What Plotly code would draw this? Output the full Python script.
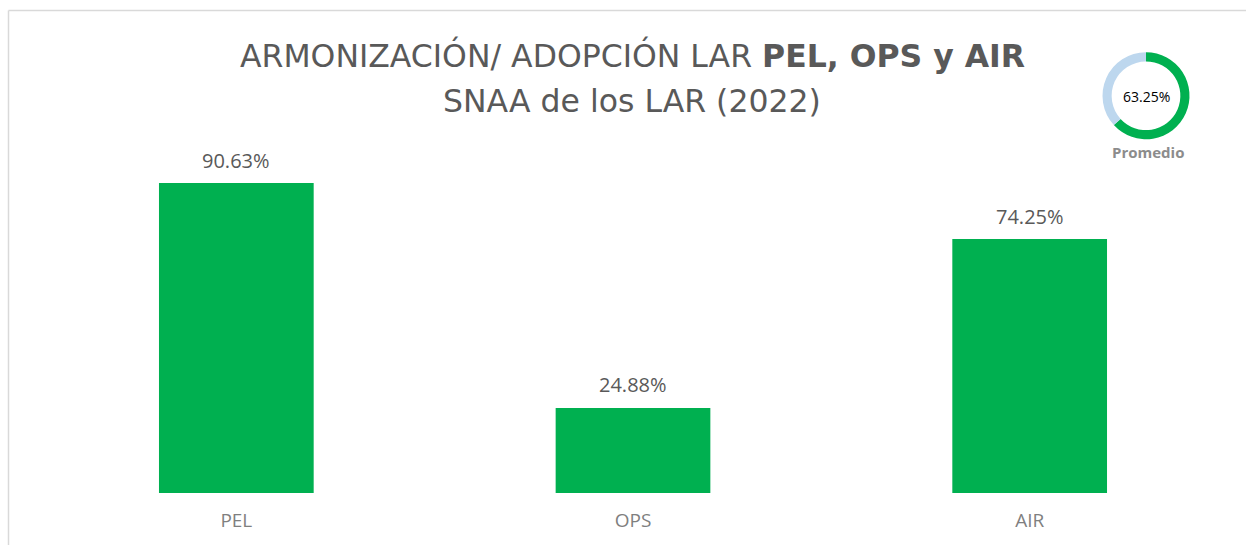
import plotly.graph_objects as go

categories = ["PEL", "OPS", "AIR"]
values = [90.63, 24.88, 74.25]
labels = ["90.63%", "24.88%", "74.25%"]
avg_value = 63.25
avg_label = "63.25%"

W, H = 1246, 545
ml, mr, mt, mb = 38, 18, 0, 52
pw = W - ml - mr
ph = H - mt - mb

def px(x):
    return (x - ml) / pw

def py(y):
    return (H - mb - y) / ph

fig = go.Figure()
fig.add_trace(go.Bar(
    x=categories, y=values,
    marker=dict(color="#00B050", line=dict(width=0)), width=0.39,
    showlegend=False, hoverinfo="x+y",
))

fig.add_trace(go.Pie(
    values=[avg_value, 100 - avg_value], hole=0.79, sort=False, direction="clockwise",
    rotation=0, marker=dict(colors=["#00B050", "#BDD7EE"], line=dict(width=0)),
    textinfo="none", hoverinfo="skip", showlegend=False,
    domain=dict(x=[px(1102.5), px(1189.5)], y=[py(139.5), py(52)]),
))

annotations = [
    dict(text=lab, x=c, y=v, xref="x", yref="y", yanchor="middle", xanchor="center",
         yshift=23, showarrow=False, font=dict(size=20, color="#595959", family="Open Sans"))
    for c, v, lab in zip(categories, values, labels)
]
title_font = dict(size=31.5, color="#595959", family="DejaVu Sans")
annotations += [
    dict(text="ARMONIZACIÓN/ ADOPCIÓN LAR <b>PEL, OPS y AIR</b>", xref="paper", yref="paper",
         x=px(632), y=py(55), xanchor="center", yanchor="middle", showarrow=False,
         font=title_font),
    dict(text="SNAA de los LAR (2022)", xref="paper", yref="paper",
         x=px(632), y=py(101), xanchor="center", yanchor="middle", showarrow=False,
         font=title_font),
    dict(text=avg_label, xref="paper", yref="paper",
         x=px(1146), y=py(96), xanchor="center", yanchor="middle", showarrow=False,
         font=dict(size=14, color="#000000", family="Open Sans")),
    dict(text="<b>Promedio</b>", xref="paper", yref="paper",
         x=px(1148), y=py(152), xanchor="center", yanchor="middle", showarrow=False,
         font=dict(size=15, color="#8C8C8C", family="Open Sans")),
]

fig.update_layout(
    width=W, height=H, margin=dict(l=ml, r=mr, t=mt, b=mb, autoexpand=False),
    paper_bgcolor="white", plot_bgcolor="white",
    font=dict(family="Open Sans", color="#595959"),
    xaxis=dict(showline=False, showgrid=False, zeroline=False, ticks="",
               tickfont=dict(size=19, color="#7F7F7F", family="Open Sans"),
               ticklabelstandoff=14, range=[-0.5, 2.5], automargin=False),
    yaxis=dict(visible=False, range=[0, ph / 342 * 100], fixedrange=True),
    annotations=annotations,
    shapes=[
        dict(type="line", xref="paper", yref="paper", x0=px(8.5), x1=px(1250), y0=py(10.5), y1=py(10.5),
             line=dict(color="#D9D9D9", width=1.5)),
        dict(type="line", xref="paper", yref="paper", x0=px(8.5), x1=px(8.5), y0=py(10.5), y1=py(550),
             line=dict(color="#D9D9D9", width=1.5)),
    ],
)

fig.write_html("out.html", config={"displayModeBar": False},
               post_script="document.body.style.margin='0';")
